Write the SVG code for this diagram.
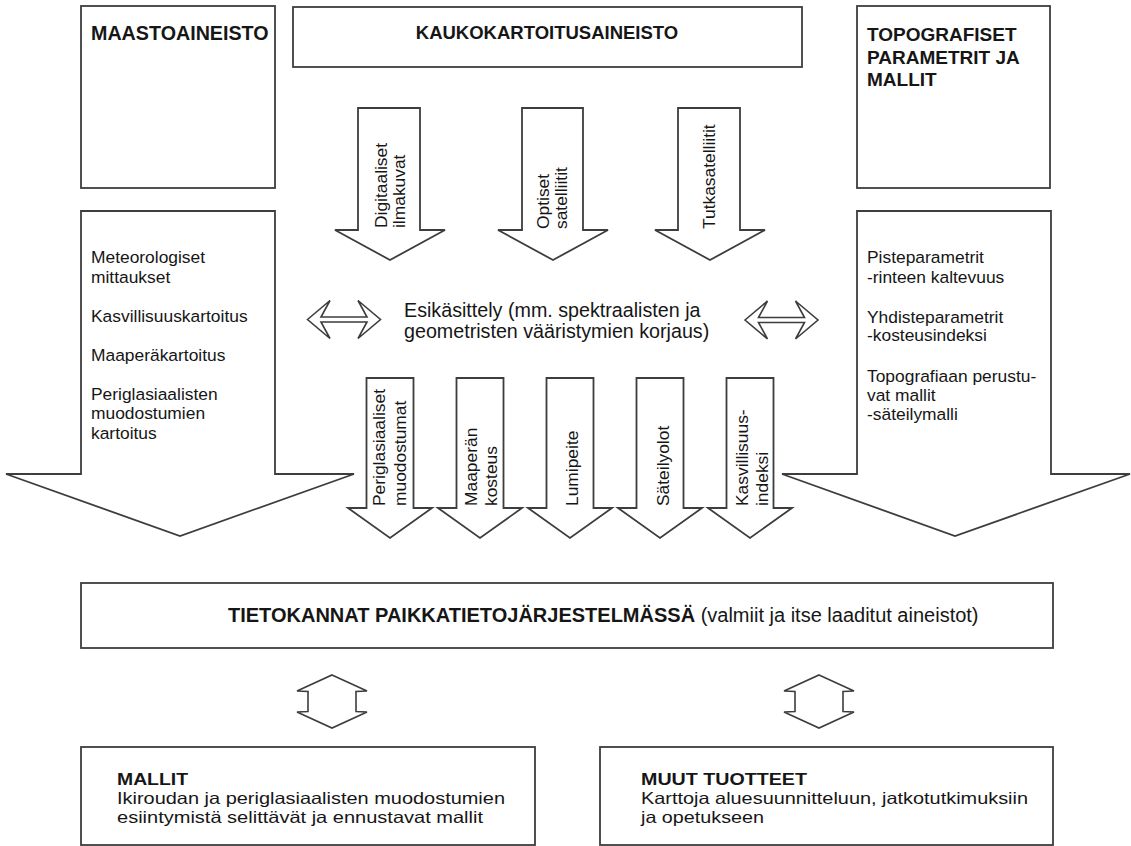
<svg xmlns="http://www.w3.org/2000/svg" width="1131" height="846" viewBox="0 0 1131 846">
<style>
.s{fill:#fff;stroke:#3d3d3d;stroke-width:1.8;stroke-linejoin:miter}
.c{fill:#fff;stroke:#3d3d3d;stroke-width:1.6;stroke-linejoin:miter}
.t{font-family:"Liberation Sans",Arial,Helvetica,sans-serif;font-size:17.4px;fill:#161616}
.h{font-family:"Liberation Sans",Arial,Helvetica,sans-serif;font-weight:bold;font-size:19px;fill:#161616}
.e{font-family:"Liberation Sans",Arial,Helvetica,sans-serif;font-size:19.7px;fill:#161616}
.m{font-family:"Liberation Sans",Arial,Helvetica,sans-serif;font-size:20px;fill:#161616}
.n{font-family:"Liberation Sans",Arial,Helvetica,sans-serif;font-size:16.5px;fill:#161616}
.bd{font-weight:bold}
</style>
<defs>
<path id="hdbl" d="M-36.5,0 L-14,-19 L-23,-2.5 L23,-2.5 L14,-19 L36.5,0 L14,19 L23,2.5 L-23,2.5 L-14,19 Z"/>
<path id="vdbl" d="M0,-26.5 L35,-10.5 L24,-10 L24,10 L35,10.5 L0,26.5 L-35,10.5 L-24,10 L-24,-10 L-35,-10.5 Z"/>
<path id="sarrow" d="M-23.5,0 L23.5,0 L23.5,130 L42,130 L0,160 L-42,130 L-23.5,130 Z"/>
</defs>
<rect x="0" y="0" width="1131" height="846" fill="#fff"/>

<g id="maastoaineisto">
<rect class="s" x="81" y="6" width="194" height="182"/>
<text class="h" x="91" y="40" style="font-size:19.7px">MAASTOAINEISTO</text>
</g>

<g id="kaukokartoitusaineisto">
<rect class="s" x="293" y="7" width="509" height="60"/>
<text class="h" x="547" y="39" text-anchor="middle" style="font-size:18.5px">KAUKOKARTOITUSAINEISTO</text>
</g>

<g id="topografiset">
<rect class="s" x="857" y="6" width="193" height="182"/>
<text class="h" x="867" y="41">TOPOGRAFISET</text>
<text class="h" x="867" y="63.5">PARAMETRIT JA</text>
<text class="h" x="867" y="86">MALLIT</text>
</g>

<g id="maasto-lista">
<polygon class="s" points="81,211 275,211 275,474 354,474 180,536 6,474 81,474"/>
<text class="t" x="91" y="263">Meteorologiset</text>
<text class="t" x="91" y="282.5">mittaukset</text>
<text class="t" x="91" y="322">Kasvillisuuskartoitus</text>
<text class="t" x="91" y="360.5">Maaperäkartoitus</text>
<text class="t" x="91" y="400">Periglasiaalisten</text>
<text class="t" x="91" y="419.3">muodostumien</text>
<text class="t" x="91" y="438.5">kartoitus</text>
</g>

<g id="topo-lista">
<polygon class="s" points="857,211 1051,211 1051,474 1130,474 955,536 782,474 857,474"/>
<text class="t" x="867" y="263">Pisteparametrit</text>
<text class="t" x="867" y="282.5">-rinteen kaltevuus</text>
<text class="t" x="867" y="322.5">Yhdisteparametrit</text>
<text class="t" x="867" y="341">-kosteusindeksi</text>
<text class="t" x="867" y="381.5">Topografiaan perustu-</text>
<text class="t" x="867" y="400.5">vat mallit</text>
<text class="t" x="867" y="419.5">-säteilymalli</text>
</g>

<g id="digitaaliset-ilmakuvat">
<polygon class="s" points="358,108 420,108 420,230 445,230 390,260 335,230 358,230"/>
<text class="t" transform="translate(387,228) rotate(-90)">Digitaaliset</text>
<text class="t" transform="translate(405,228) rotate(-90)">ilmakuvat</text>
</g>

<g id="optiset-satelliitit">
<polygon class="s" points="522,108 583,108 583,230 608,230 553,260 498,230 522,230"/>
<text class="t" transform="translate(549,229) rotate(-90)">Optiset</text>
<text class="t" transform="translate(567,229) rotate(-90)">satelliitit</text>
</g>

<g id="tutkasatelliitit">
<polygon class="s" points="678,108 740,108 740,230 765,230 710,260 655,230 678,230"/>
<text class="t" transform="translate(715,229) rotate(-90)">Tutkasatelliitit</text>
</g>

<g id="esikasittely">
<text class="e" x="404" y="317">Esikäsittely (mm. spektraalisten ja</text>
<text class="e" x="404" y="338">geometristen vääristymien korjaus)</text>
</g>

<g id="periglasiaaliset-muodostumat">
<use href="#sarrow" class="s" x="390" y="378"/>
<text class="t" transform="translate(385,506) rotate(-90)">Periglasiaaliset</text>
<text class="t" transform="translate(406,506) rotate(-90)">muodostumat</text>
</g>

<g id="maaperan-kosteus">
<use href="#sarrow" class="s" x="480" y="378"/>
<text class="t" transform="translate(477,506) rotate(-90)">Maaperän</text>
<text class="t" transform="translate(497,506) rotate(-90)">kosteus</text>
</g>

<g id="lumipeite">
<use href="#sarrow" class="s" x="570" y="378"/>
<text class="t" transform="translate(578,506) rotate(-90)">Lumipeite</text>
</g>

<g id="sateilyolot">
<use href="#sarrow" class="s" x="660" y="378"/>
<text class="t" transform="translate(669,506) rotate(-90)">Säteilyolot</text>
</g>

<g id="kasvillisuusindeksi">
<use href="#sarrow" class="s" x="750" y="378"/>
<text class="t" transform="translate(748,506) rotate(-90)">Kasvillisuus-</text>
<text class="t" transform="translate(768,506) rotate(-90)">indeksi</text>
</g>

<g id="tietokannat">
<rect class="s" x="81" y="583" width="972" height="65"/>
<text class="m" x="228" y="622"><tspan class="bd">TIETOKANNAT PAIKKATIETOJÄRJESTELMÄSSÄ</tspan> (valmiit ja itse laaditut aineistot)</text>
</g>

<g id="mallit">
<rect class="s" x="81" y="747" width="454" height="98"/>
<text class="n bd" x="117" y="785" textLength="71" lengthAdjust="spacingAndGlyphs">MALLIT</text>
<text class="n" x="117" y="804" textLength="388" lengthAdjust="spacingAndGlyphs">Ikiroudan ja periglasiaalisten muodostumien</text>
<text class="n" x="117" y="823" textLength="366" lengthAdjust="spacingAndGlyphs">esiintymistä selittävät ja ennustavat mallit</text>
</g>

<g id="muut-tuotteet">
<rect class="s" x="600" y="747" width="453" height="98"/>
<text class="n bd" x="641" y="785" textLength="166" lengthAdjust="spacingAndGlyphs">MUUT TUOTTEET</text>
<text class="n" x="641" y="804" textLength="387" lengthAdjust="spacingAndGlyphs">Karttoja aluesuunnitteluun, jatkotutkimuksiin</text>
<text class="n" x="641" y="823" textLength="123" lengthAdjust="spacingAndGlyphs">ja opetukseen</text>
</g>

<g id="connectors">
<use href="#hdbl" class="c" x="344" y="319.5"/>
<use href="#hdbl" class="c" x="781.5" y="320"/>
<use href="#vdbl" class="c" x="332" y="701.5"/>
<use href="#vdbl" class="c" x="819" y="701.5"/>
</g>
</svg>
